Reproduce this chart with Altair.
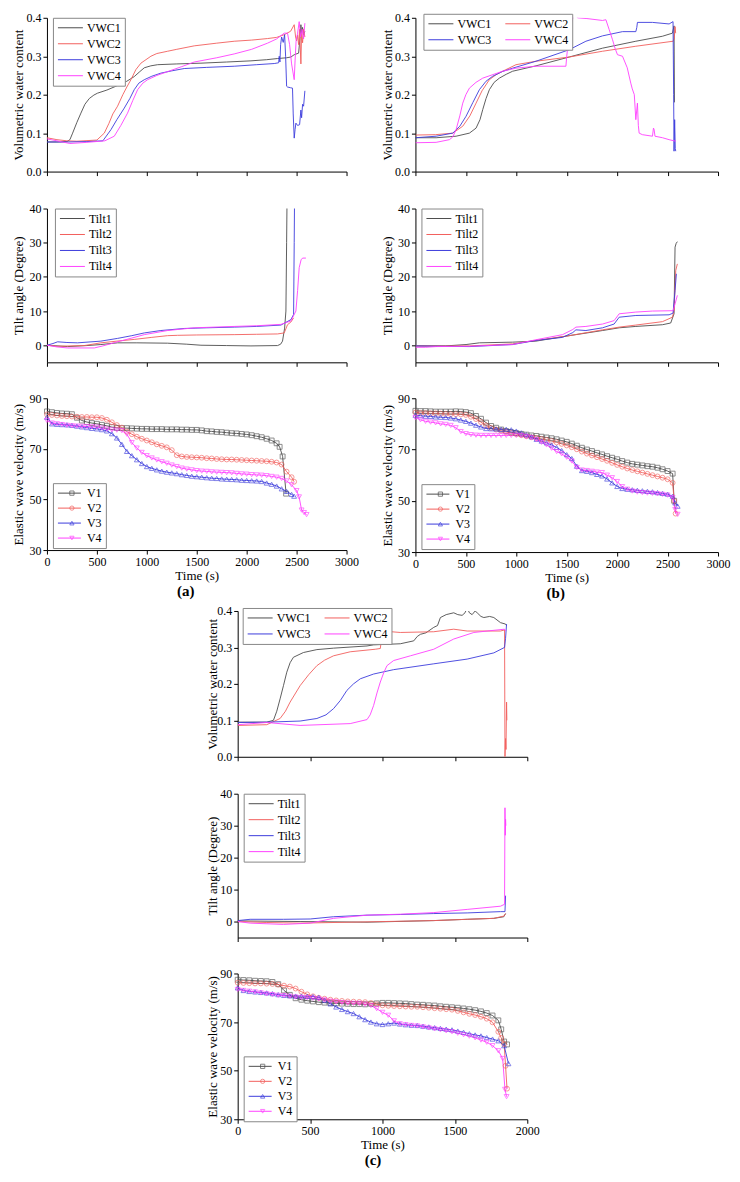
import altair as alt
import pandas as pd

FONT = "Liberation Serif"
COLORS = ["#4d4d4d", "#f25f5c", "#3c3cdc", "#ff40ff"]
SHAPES = ["square", "circle", "triangle-up", "triangle-down"]
VWC_NAMES = ["VWC1", "VWC2", "VWC3", "VWC4"]
TILT_NAMES = ["Tilt1", "Tilt2", "Tilt3", "Tilt4"]
V_NAMES = ["V1", "V2", "V3", "V4"]
X_TICKS_AB = [0, 500, 1000, 1500, 2000, 2500, 3000]
X_TICKS_C = [0, 500, 1000, 1500, 2000]
VWC_TICKS = [0.0, 0.1, 0.2, 0.3, 0.4]
TILT_TICKS = [0, 10, 20, 30, 40]
VEL_TICKS = [30, 50, 70, 90]

# ---------------- (a) volumetric water content ----------------
VWC1_A_T = [0, 100, 200, 230, 257, 300, 340, 380, 424, 470, 507, 600, 700, 800, 874, 930, 975, 1040, 1108, 1300, 1542, 1800, 2043, 2200, 2309, 2400, 2443, 2476, 2520, 2535, 2543, 2550, 2560, 2570, 2583]
VWC1_A_V = [0.077, 0.077, 0.078, 0.083, 0.10, 0.128, 0.152, 0.175, 0.19, 0.199, 0.204, 0.212, 0.223, 0.235, 0.247, 0.26, 0.27, 0.275, 0.278, 0.28, 0.282, 0.285, 0.288, 0.291, 0.294, 0.296, 0.298, 0.304, 0.308, 0.35, 0.382, 0.36, 0.375, 0.355, 0.365]
VWC2_A_T = [0, 100, 200, 300, 500, 574, 620, 660, 707, 760, 800, 841, 890, 941, 1041, 1100, 1208, 1300, 1475, 1700, 1875, 2050, 2209, 2300, 2376, 2440, 2476, 2490, 2500, 2510, 2520, 2530, 2543, 2550, 2560, 2570, 2583]
VWC2_A_V = [0.088, 0.083, 0.08, 0.079, 0.082, 0.10, 0.125, 0.15, 0.17, 0.20, 0.22, 0.239, 0.265, 0.282, 0.30, 0.307, 0.313, 0.318, 0.327, 0.334, 0.339, 0.342, 0.346, 0.349, 0.356, 0.365, 0.382, 0.35, 0.34, 0.355, 0.33, 0.37, 0.28, 0.36, 0.335, 0.37, 0.35]
VWC3_A_T = [0, 200, 400, 560, 641, 700, 774, 830, 874, 920, 975, 1050, 1141, 1250, 1375, 1600, 1875, 2100, 2276, 2320, 2326, 2333, 2340, 2350, 2366, 2380, 2390, 2400, 2409, 2440, 2459, 2466, 2476, 2485, 2493, 2510, 2530, 2543, 2550, 2560, 2570, 2583]
VWC3_A_V = [0.077, 0.077, 0.078, 0.08, 0.109, 0.135, 0.165, 0.19, 0.213, 0.23, 0.239, 0.248, 0.256, 0.262, 0.268, 0.271, 0.274, 0.278, 0.281, 0.283, 0.30, 0.285, 0.33, 0.35, 0.336, 0.356, 0.30, 0.222, 0.22, 0.218, 0.217, 0.15, 0.087, 0.11, 0.126, 0.12, 0.122, 0.16, 0.14, 0.175, 0.17, 0.21]
VWC4_A_T = [0, 100, 230, 400, 580, 674, 740, 807, 860, 908, 960, 1008, 1100, 1208, 1350, 1475, 1700, 1875, 2050, 2209, 2300, 2376, 2409, 2430, 2450, 2476, 2485, 2495, 2510, 2526, 2540, 2555, 2570, 2583]
VWC4_A_V = [0.085, 0.08, 0.073, 0.076, 0.08, 0.092, 0.12, 0.152, 0.185, 0.213, 0.23, 0.239, 0.25, 0.26, 0.273, 0.285, 0.296, 0.306, 0.318, 0.334, 0.345, 0.36, 0.36, 0.33, 0.28, 0.239, 0.29, 0.34, 0.36, 0.39, 0.35, 0.37, 0.345, 0.386]

# ---------------- (a) tilt ----------------
TILT1_A_T = [0, 207, 400, 540, 707, 900, 1208, 1400, 1542, 1800, 2043, 2309, 2340, 2359, 2380, 2393, 2400, 2405]
TILT1_A_V = [0, -0.4, -0.1, 0.2, 0.7, 0.7, 0.6, 0.3, 0.0, -0.1, -0.2, -0.1, 0.3, 1.2, 5, 10, 30, 45]
TILT2_A_T = [0, 100, 374, 540, 700, 874, 1050, 1208, 1308, 1500, 1875, 2100, 2309, 2376, 2409, 2443, 2470]
TILT2_A_V = [0, -0.3, -0.1, 0.7, 1.2, 1.7, 2.3, 2.8, 2.9, 3.0, 3.1, 3.2, 3.3, 3.6, 6.0, 6.8, 8.0]
TILT3_A_T = [0, 60, 107, 200, 307, 540, 707, 850, 975, 1141, 1375, 1600, 1875, 2100, 2343, 2443, 2470, 2476, 2480]
TILT3_A_V = [0, 0.5, 1.0, 0.8, 0.7, 1.2, 2.0, 2.8, 3.6, 4.3, 4.9, 5.1, 5.3, 5.5, 5.9, 7.5, 9.0, 30, 45]
TILT4_A_T = [0, 100, 207, 474, 560, 707, 850, 975, 1208, 1475, 1875, 2100, 2343, 2443, 2493, 2510, 2526, 2545, 2560, 2593]
TILT4_A_V = [0, -0.5, -0.8, -0.8, -0.2, 1.0, 2.1, 3.1, 4.3, 5.1, 5.5, 5.7, 6.1, 7.1, 10.0, 16, 22.7, 25.0, 25.5, 25.5]

# ---------------- (a) elastic wave velocity ----------------
GRID_AB = [0, 50, 100, 150, 200, 250, 300, 350, 400, 450, 500, 550, 600, 650, 700, 750, 800, 850, 900, 950,
           1000, 1050, 1100, 1150, 1200, 1250, 1300, 1350, 1400, 1450, 1500, 1550, 1600, 1650, 1700, 1750, 1800, 1850, 1900, 1950,
           2000, 2050, 2100, 2150, 2200, 2250, 2300, 2350, 2400, 2450, 2500, 2550, 2600]
V1_A = [84.8, 84.5, 84.2, 84.0, 83.9, 83.7, 82.3, 81.2, 80.6, 80.2,
        79.9, 79.5, 79.1, 78.6, 78.3, 78.2, 78.2, 78.1, 78.0, 77.9,
        77.9, 77.8, 77.8, 77.8, 77.7, 77.7, 77.7, 77.6, 77.6, 77.5,
        77.5, 77.3, 77.0, 76.9, 76.7, 76.6, 76.4, 76.2, 76.1, 75.9,
        75.7, 75.4, 75.0, 74.6, 74.0, 73.3, 72.2]
V1_A_TAIL_T = [2330, 2360, 2395]
V1_A_TAIL_V = [70.8, 67.0, 52.3]
V2_A = [83.6, 83.4, 83.2, 83.0, 82.9, 82.8, 82.7, 82.6, 82.6, 82.5,
        82.5, 82.2, 81.5, 80.5, 79.4, 78.4, 76.8, 75.8, 74.8, 74.0,
        73.3, 72.6, 71.8, 71.2, 70.6, 69.5, 67.5, 67.0, 66.8, 66.7,
        66.6, 66.5, 66.3, 66.2, 66.0, 65.9, 65.8, 65.8, 65.7, 65.6,
        65.5, 65.4, 65.3, 65.2, 65.1, 64.9, 64.6, 63.8, 61.0, 58.8]
V2_A_TAIL_T = [2475]
V2_A_TAIL_V = [57.0]
V3_A = [82.5, 79.9, 79.7, 79.6, 79.5, 79.3, 79.0, 78.7, 78.4, 78.1,
        77.9, 77.6, 77.1, 76.0, 74.3, 71.8, 69.0, 67.3, 65.7, 64.2,
        63.0, 62.3, 61.7, 61.2, 60.8, 60.5, 60.2, 59.8, 59.5, 59.2,
        59.0, 58.8, 58.6, 58.4, 58.3, 58.1, 58.0, 57.9, 57.8, 57.6,
        57.5, 57.4, 57.3, 57.1, 56.5, 56.0, 55.3, 54.2, 53.2, 52.0]
V3_A_TAIL_T = [2475]
V3_A_TAIL_V = [51.3]
V4_A = [81.2, 80.2, 79.9, 79.6, 79.3, 79.1, 79.0, 78.9, 78.8, 78.7,
        78.6, 78.2, 77.8, 77.5, 77.4, 77.2, 75.8, 72.5, 70.3, 68.6,
        67.3, 66.4, 65.6, 64.9, 64.3, 63.6, 63.0, 62.4, 62.0, 61.7,
        61.4, 61.2, 61.1, 60.9, 60.8, 60.7, 60.6, 60.5, 60.3, 60.1,
        60.0, 59.8, 59.7, 59.6, 59.4, 59.1, 58.8, 58.3, 57.3, 55.8, 53.5]
V4_A_TAIL_T = [2525, 2550, 2575, 2600]
V4_A_TAIL_V = [51.0, 45.8, 44.8, 44.0]

# ---------------- (b) volumetric water content ----------------
VWC1_B_T = [0, 205, 403, 535, 601, 640, 667, 700, 733, 780, 832, 900, 964, 1195, 1525, 1855, 2185, 2449, 2548, 2564, 2568]
VWC1_B_V = [0.088, 0.088, 0.092, 0.10, 0.113, 0.135, 0.161, 0.19, 0.213, 0.232, 0.243, 0.253, 0.261, 0.275, 0.298, 0.321, 0.339, 0.352, 0.36, 0.379, 0.18]
VWC2_B_T = [0, 200, 370, 469, 540, 601, 660, 733, 800, 865, 997, 1195, 1525, 1855, 2185, 2554, 2566, 2574, 2580]
VWC2_B_V = [0.095, 0.096, 0.10, 0.118, 0.145, 0.178, 0.21, 0.239, 0.252, 0.261, 0.278, 0.287, 0.298, 0.313, 0.326, 0.339, 0.345, 0.377, 0.36]
VWC3_B_T = [0, 205, 370, 440, 502, 570, 634, 700, 766, 860, 964, 1195, 1525, 1690, 1855, 2053, 2185, 2195, 2201, 2350, 2515, 2554, 2560, 2564, 2570, 2576, 2581]
VWC3_B_V = [0.088, 0.092, 0.10, 0.118, 0.144, 0.18, 0.213, 0.235, 0.248, 0.26, 0.269, 0.287, 0.317, 0.339, 0.353, 0.364, 0.364, 0.375, 0.388, 0.388, 0.384, 0.39, 0.2, 0.053, 0.135, 0.06, 0.053]
VWC4_B_T = [0, 205, 337, 370, 403, 440, 469, 500, 535, 600, 667, 865, 997, 1195, 1492, 1500, 1515, 1550, 1574, 1607, 1700, 1855, 1888, 1920, 1954, 1980, 2003, 2053, 2100, 2135, 2150, 2170, 2185, 2201, 2210, 2218, 2250, 2350, 2360, 2366, 2375, 2450, 2515, 2581]
VWC4_B_V = [0.075, 0.076, 0.083, 0.09, 0.109, 0.145, 0.178, 0.2, 0.217, 0.232, 0.243, 0.261, 0.269, 0.274, 0.274, 0.3, 0.334, 0.39, 0.412, 0.4, 0.398, 0.393, 0.395, 0.37, 0.343, 0.32, 0.304, 0.3, 0.27, 0.23, 0.215, 0.2, 0.135, 0.178, 0.12, 0.10, 0.096, 0.092, 0.113, 0.11, 0.092, 0.088, 0.083, 0.079]

# ---------------- (b) tilt ----------------
TILT1_B_T = [0, 300, 502, 634, 964, 1195, 1525, 1855, 2020, 2185, 2449, 2531, 2564, 2574, 2585, 2597]
TILT1_B_V = [-0.2, -0.2, 0.2, 0.7, 0.9, 1.2, 2.8, 4.3, 5.1, 5.5, 6.0, 6.5, 9.2, 28.7, 29.8, 30.3]
TILT2_B_T = [0, 535, 964, 1195, 1525, 1855, 2020, 2185, 2449, 2548, 2564, 2581, 2597]
TILT2_B_V = [-0.2, -0.2, 0.4, 1.4, 2.8, 4.5, 5.3, 5.9, 6.9, 8.2, 10.1, 21.9, 23.8]
TILT3_B_T = [0, 535, 964, 1195, 1459, 1560, 1591, 1690, 1855, 1970, 2020, 2185, 2515, 2554, 2574, 2587]
TILT3_B_V = [-0.2, -0.4, 0.2, 1.4, 2.3, 3.7, 4.5, 4.3, 5.1, 6.2, 8.2, 8.7, 8.9, 9.4, 16, 20.9]
TILT4_B_T = [0, 100, 205, 535, 964, 1195, 1459, 1560, 1591, 1690, 1855, 1970, 2020, 2185, 2350, 2554, 2574, 2597]
TILT4_B_V = [-0.6, -0.6, -0.4, -0.3, 0.2, 1.6, 3.1, 4.6, 5.3, 5.5, 6.2, 7.2, 9.2, 9.7, 10.0, 10.1, 12.1, 14.6]

# ---------------- (b) elastic wave velocity ----------------
V1_B = [85.1, 85.0, 85.0, 84.9, 84.8, 84.8, 84.8, 84.8, 84.9, 84.8,
        84.6, 84.2, 83.1, 82.0, 80.5, 79.2, 78.5, 77.8, 77.2, 76.7,
        76.4, 76.1, 75.8, 75.5, 75.3, 75.0, 74.7, 74.4, 74.0, 73.5,
        73.0, 72.3, 71.5, 70.7, 70.0, 69.4, 68.7, 68.1, 67.4, 66.8,
        66.2, 65.5, 64.9, 64.4, 64.1, 63.8, 63.5, 63.3, 62.9, 62.3, 61.6, 60.6]
V1_B_TAIL_T = [2565]
V1_B_TAIL_V = [50.0]
V2_B = [84.4, 84.3, 84.2, 84.1, 84.1, 84.0, 83.9, 83.8, 83.8, 83.7,
        83.5, 82.8, 81.9, 80.7, 79.4, 78.4, 77.8, 77.3, 76.8, 76.4,
        76.0, 75.6, 75.2, 74.8, 74.5, 74.1, 73.7, 73.3, 72.8, 72.2,
        71.6, 70.9, 70.1, 69.2, 68.4, 67.7, 67.0, 66.3, 65.6, 64.8,
        64.0, 63.3, 62.6, 62.0, 61.5, 61.0, 60.5, 60.0, 59.5, 59.0, 58.4, 57.0]
V2_B_TAIL_T = [2565, 2580]
V2_B_TAIL_V = [50.0, 45.0]
V3_B = [83.4, 83.2, 83.0, 82.9, 82.7, 82.6, 82.5, 82.3, 82.0, 81.5,
        81.0, 80.3, 79.5, 78.8, 78.2, 78.1, 78.0, 77.9, 77.9, 77.7,
        77.2, 76.5, 75.8, 75.0, 74.0, 73.3, 72.6, 71.8, 70.8, 69.6,
        68.0, 66.5, 63.5, 61.8, 61.5, 61.0, 60.3, 59.7, 58.5, 57.0,
        55.6, 54.8, 54.5, 54.3, 54.1, 53.9, 53.7, 53.5, 53.2, 52.9, 52.6, 51.8]
V3_B_TAIL_T = [2575, 2600]
V3_B_TAIL_V = [49.2, 47.9]
V4_B = [82.4, 81.6, 81.0, 80.7, 80.4, 80.0, 79.8, 79.4, 78.5, 77.0,
        76.2, 75.8, 75.6, 75.5, 75.5, 75.5, 75.5, 75.5, 75.5, 75.5,
        75.5, 75.4, 75.0, 74.6, 73.8, 72.8, 71.8, 70.5, 69.2, 68.3,
        67.0, 65.5, 63.0, 62.0, 61.8, 61.5, 61.2, 61.0, 60.0, 59.0,
        57.5, 55.5, 54.5, 53.8, 53.4, 53.2, 53.0, 52.9, 52.7, 52.5, 52.2, 51.2]
V4_B_TAIL_T = [2575, 2600]
V4_B_TAIL_V = [46.6, 44.7]

# ---------------- (c) volumetric water content ----------------
VWC1_C_T = [0, 201, 247, 270, 293, 316, 339, 362, 385, 454, 547, 662, 893, 939, 1123, 1216, 1240, 1262, 1300, 1354, 1380, 1400, 1440, 1492, 1520, 1550, 1570, 1585, 1600, 1619, 1640, 1654, 1680, 1700, 1740, 1769, 1815, 1850, 1856]
VWC1_C_V = [0.095, 0.095, 0.10, 0.125, 0.159, 0.195, 0.232, 0.258, 0.273, 0.286, 0.294, 0.298, 0.304, 0.307, 0.31, 0.318, 0.33, 0.336, 0.34, 0.355, 0.36, 0.382, 0.39, 0.395, 0.39, 0.388, 0.395, 0.409, 0.395, 0.39, 0.40, 0.395, 0.385, 0.382, 0.385, 0.382, 0.368, 0.364, 0.36]
VWC2_C_T = [0, 201, 293, 330, 362, 431, 490, 547, 600, 662, 777, 950, 985, 1003, 1031, 1123, 1354, 1492, 1585, 1815, 1843, 1846, 1850, 1853, 1857, 1859]
VWC2_C_V = [0.086, 0.088, 0.105, 0.125, 0.15, 0.195, 0.225, 0.25, 0.265, 0.277, 0.288, 0.295, 0.297, 0.355, 0.344, 0.341, 0.343, 0.35, 0.345, 0.345, 0.348, 0.0, 0.05, 0.02, 0.15, 0.10]
VWC3_C_T = [0, 201, 431, 547, 610, 662, 710, 754, 800, 847, 939, 1077, 1354, 1585, 1769, 1843, 1850, 1857]
VWC3_C_V = [0.094, 0.095, 0.098, 0.105, 0.115, 0.132, 0.155, 0.182, 0.20, 0.214, 0.227, 0.239, 0.255, 0.268, 0.285, 0.30, 0.325, 0.364]
VWC4_C_T = [0, 201, 431, 777, 893, 915, 939, 962, 985, 1008, 1031, 1077, 1193, 1354, 1492, 1631, 1723, 1843, 1850]
VWC4_C_V = [0.088, 0.094, 0.086, 0.091, 0.102, 0.115, 0.141, 0.175, 0.205, 0.23, 0.25, 0.264, 0.277, 0.295, 0.323, 0.341, 0.345, 0.35, 0.345]

# ---------------- (c) tilt ----------------
TILT1_C_T = [0, 431, 893, 1354, 1585, 1769, 1838, 1850]
TILT1_C_V = [0.2, 0.0, -0.2, 0.3, 0.7, 1.0, 1.5, 2.5]
TILT2_C_T = [0, 201, 431, 893, 1354, 1585, 1769, 1838, 1850]
TILT2_C_V = [0, -0.3, -0.5, -0.1, 0.3, 0.7, 1.0, 1.7, 2.5]
TILT3_C_T = [0, 86, 316, 501, 662, 893, 1123, 1354, 1585, 1815, 1846, 1850]
TILT3_C_V = [0.3, 0.7, 0.7, 0.8, 1.5, 2.0, 2.2, 2.5, 2.7, 3.1, 3.1, 8.1]
TILT4_C_T = [0, 86, 316, 501, 662, 893, 1123, 1354, 1585, 1815, 1843, 1846, 1848, 1850, 1852]
TILT4_C_V = [0, -0.5, -0.9, -0.5, 1.0, 2.0, 2.3, 2.8, 3.8, 4.8, 5.4, 35.6, 27, 32, 30]

# ---------------- (c) elastic wave velocity ----------------
GRID_C = [0, 40, 80, 120, 160, 200, 240, 280, 320, 360, 400, 440, 480, 520, 560, 600, 640, 680, 720, 760,
          800, 840, 880, 920, 960, 1000, 1040, 1080, 1120, 1160, 1200, 1240, 1280, 1320, 1360, 1400, 1440, 1480, 1520, 1560,
          1600, 1640, 1680, 1720, 1760, 1800, 1840]
V1_C = [87.4, 87.3, 87.2, 87.0, 86.9, 86.8, 86.5, 85.6, 83.0, 81.2,
        79.8, 79.2, 78.8, 78.5, 78.2, 78.0, 77.8, 77.7, 77.6, 77.5,
        77.4, 77.4, 77.3, 77.5, 77.7, 77.9, 77.9, 77.8, 77.7, 77.6,
        77.4, 77.2, 77.1, 76.9, 76.8, 76.5, 76.3, 76.1, 75.9, 75.6,
        75.3, 74.9, 74.4, 73.7, 72.7, 70.7]
V1_C_TAIL_T = [1820, 1840, 1860]
V1_C_TAIL_V = [67.0, 62.0, 60.8]
V2_C = [86.2, 86.1, 86.0, 85.9, 85.9, 85.8, 85.7, 85.4, 85.0, 84.6,
        83.8, 82.5, 81.4, 80.6, 80.0, 79.6, 79.2, 78.9, 78.7, 78.5,
        78.4, 78.3, 78.2, 77.8, 77.3, 76.9, 76.7, 76.6, 76.5, 76.4,
        76.3, 76.3, 76.1, 75.9, 75.7, 75.5, 75.3, 75.1, 74.6, 74.0,
        73.4, 72.9, 72.2, 71.4, 69.9, 66.0]
V2_C_TAIL_T = [1820, 1840, 1850, 1860]
V2_C_TAIL_V = [63.5, 61.0, 52.0, 42.6]
V3_C = [84.1, 83.0, 82.6, 82.4, 82.2, 82.0, 81.7, 81.3, 81.0, 80.8,
        80.7, 80.7, 80.6, 80.5, 80.2, 79.0, 77.5, 76.2, 75.2, 74.3,
        73.5, 72.2, 71.0, 70.0, 69.3, 69.0, 69.3, 69.6, 69.2, 68.9,
        68.7, 68.6, 68.3, 68.0, 67.7, 67.4, 67.1, 66.8, 66.3, 65.8,
        65.2, 64.7, 64.3, 63.6, 63.0, 62.3, 60.3]
V3_C_TAIL_T = [1870]
V3_C_TAIL_V = [52.9]
V4_C = [83.4, 83.0, 82.7, 82.4, 82.0, 81.6, 81.3, 81.0, 80.9, 80.6,
        80.3, 80.1, 80.0, 79.8, 79.5, 79.1, 78.6, 78.3, 78.0, 77.8,
        77.7, 77.7, 77.3, 76.8, 75.5, 74.0, 72.8, 70.5, 69.3, 68.9,
        68.6, 68.4, 68.0, 67.6, 67.2, 66.8, 66.4, 66.0, 65.4, 64.8,
        64.2, 63.5, 62.6, 61.7, 60.3, 58.2]
V4_C_TAIL_T = [1830, 1846, 1857]
V4_C_TAIL_V = [55.0, 42.3, 39.3]


def frame(names, ts, vs):
    rows = []
    for n, t, v in zip(names, ts, vs):
        for i, (a, b) in enumerate(zip(t, v)):
            rows.append({"s": n, "t": a, "v": b, "i": i})
    return pd.DataFrame(rows)


def vel_series(grid, vals, tail_t, tail_v):
    return grid[:len(vals)] + tail_t, vals + tail_v


def line_legend(lx, ly, cols, box=True, path="M-1,0H4", row_pad=4):
    opts = dict(title=None, orient="none", legendX=lx, legendY=ly, columns=cols,
                direction="horizontal" if cols > 1 else "vertical",
                symbolType=path, symbolSize=100, symbolStrokeWidth=1,
                labelOffset=18, labelFont=FONT, labelFontSize=12, labelColor="black",
                padding=4, rowPadding=row_pad, columnPadding=12)
    if box:
        opts.update(strokeColor="#888888", fillColor="white")
    return alt.Legend(**opts)


def y_axis(title, ticks, fmt, tx):
    return alt.Axis(values=ticks, format=fmt, title=title, titleX=tx, labelFlush=False,
                    labelOverlap=False, labelFont=FONT, titleFont=FONT)


def x_axis(ticks, labels):
    if labels:
        return alt.Axis(values=ticks, title="Time (s)", labelFlush=False, labelOverlap=False,
                        titlePadding=2, format="d", labelFont=FONT, titleFont=FONT)
    return alt.Axis(values=ticks, labels=False, title=None)


def line_panel(df, names, ytitle, ydom, yticks, yfmt, w, h, xdom, xticks, leg, tx):
    return alt.Chart(df).mark_line(strokeWidth=0.9, clip=True).encode(
        x=alt.X("t:Q", scale=alt.Scale(domain=xdom, nice=False), axis=x_axis(xticks, False)),
        y=alt.Y("v:Q", scale=alt.Scale(domain=ydom, nice=False, zero=False), axis=y_axis(ytitle, yticks, yfmt, tx)),
        color=alt.Color("s:N", scale=alt.Scale(domain=names, range=COLORS), legend=leg),
        order="i:Q",
    ).properties(width=w, height=h)


def vel_panel(df, w, h, xdom, xticks, lx, ly, tx):
    # line legend (with box) and a marker-only legend drawn on top of it at the same place
    line_leg = line_legend(lx, ly, 1, box=True, path="M-1,0H3.6", row_pad=3)
    mark_leg = alt.Legend(title=None, orient="none", legendX=lx, legendY=ly, columns=1,
                          symbolSize=18, symbolStrokeWidth=1, labelFont=FONT, labelFontSize=12,
                          labelExpr="''", padding=4, rowPadding=3, symbolOffset=9, labelOffset=14)
    x = alt.X("t:Q", scale=alt.Scale(domain=xdom, nice=False), axis=x_axis(xticks, True))
    y = alt.Y("v:Q", scale=alt.Scale(domain=[30, 90], nice=False, zero=False),
              axis=y_axis("Elastic wave velocity (m/s)", VEL_TICKS, "d", tx))
    cscale = alt.Scale(domain=V_NAMES, range=COLORS)
    base = alt.Chart(df)
    line = base.mark_line(strokeWidth=0.9).encode(
        x=x, y=y, color=alt.Color("s:N", scale=cscale, legend=line_leg), order="i:Q")
    pts = base.mark_point(filled=False, size=24, strokeWidth=0.9).encode(
        x=x, y=y, color=alt.Color("s:N", scale=cscale, legend=mark_leg),
        shape=alt.Shape("s:N", scale=alt.Scale(domain=V_NAMES, range=SHAPES), legend=mark_leg))
    return alt.layer(line, pts).resolve_legend(color="independent", shape="independent").properties(width=w, height=h)


def column(vwc_df, tilt_df, vel_df, w, hs, xdom, xticks, label, legs, tx, spacing):
    vwc = line_panel(vwc_df, VWC_NAMES, "Volumetric water content", [0, 0.4], VWC_TICKS, ".1f",
                     w, hs[0], xdom, xticks, line_legend(*legs[0]), tx)
    tilt = line_panel(tilt_df, TILT_NAMES, "Tilt angle (Degree)", [-5, 40], TILT_TICKS, "d",
                      w, hs[1], xdom, xticks, line_legend(*legs[1]), tx)
    vel = vel_panel(vel_df, w, hs[2], xdom, xticks, legs[2][0], legs[2][1], tx)
    return alt.vconcat(vwc, tilt, vel, spacing=spacing,
                       title=alt.TitleParams(text=label, orient="bottom", anchor="middle",
                                             font=FONT, fontSize=15, fontWeight="bold",
                                             offset=2)).resolve_scale(color="independent", shape="independent")


vwc_a = frame(VWC_NAMES, [VWC1_A_T, VWC2_A_T, VWC3_A_T, VWC4_A_T], [VWC1_A_V, VWC2_A_V, VWC3_A_V, VWC4_A_V])
tilt_a = frame(TILT_NAMES, [TILT1_A_T, TILT2_A_T, TILT3_A_T, TILT4_A_T], [TILT1_A_V, TILT2_A_V, TILT3_A_V, TILT4_A_V])
va = [vel_series(GRID_AB, V1_A, V1_A_TAIL_T, V1_A_TAIL_V), vel_series(GRID_AB, V2_A, V2_A_TAIL_T, V2_A_TAIL_V),
      vel_series(GRID_AB, V3_A, V3_A_TAIL_T, V3_A_TAIL_V), vel_series(GRID_AB, V4_A, V4_A_TAIL_T, V4_A_TAIL_V)]
vel_a = frame(V_NAMES, [s[0] for s in va], [s[1] for s in va])

vwc_b = frame(VWC_NAMES, [VWC1_B_T, VWC2_B_T, VWC3_B_T, VWC4_B_T], [VWC1_B_V, VWC2_B_V, VWC3_B_V, VWC4_B_V])
tilt_b = frame(TILT_NAMES, [TILT1_B_T, TILT2_B_T, TILT3_B_T, TILT4_B_T], [TILT1_B_V, TILT2_B_V, TILT3_B_V, TILT4_B_V])
vb = [vel_series(GRID_AB, V1_B, V1_B_TAIL_T, V1_B_TAIL_V), vel_series(GRID_AB, V2_B, V2_B_TAIL_T, V2_B_TAIL_V),
      vel_series(GRID_AB, V3_B, V3_B_TAIL_T, V3_B_TAIL_V), vel_series(GRID_AB, V4_B, V4_B_TAIL_T, V4_B_TAIL_V)]
vel_b = frame(V_NAMES, [s[0] for s in vb], [s[1] for s in vb])

vwc_c = frame(VWC_NAMES, [VWC1_C_T, VWC2_C_T, VWC3_C_T, VWC4_C_T], [VWC1_C_V, VWC2_C_V, VWC3_C_V, VWC4_C_V])
tilt_c = frame(TILT_NAMES, [TILT1_C_T, TILT2_C_T, TILT3_C_T, TILT4_C_T], [TILT1_C_V, TILT2_C_V, TILT3_C_V, TILT4_C_V])
vc = [vel_series(GRID_C, V1_C, V1_C_TAIL_T, V1_C_TAIL_V), vel_series(GRID_C, V2_C, V2_C_TAIL_T, V2_C_TAIL_V),
      vel_series(GRID_C, V3_C, V3_C_TAIL_T, V3_C_TAIL_V), vel_series(GRID_C, V4_C, V4_C_TAIL_T, V4_C_TAIL_V)]
vel_c = frame(V_NAMES, [s[0] for s in vc], [s[1] for s in vc])

col_a = column(vwc_a, tilt_a, vel_a, 300, [154, 154, 152], [0, 3000], X_TICKS_AB, "(a)",
               [(6, 0, 1), (8, 0, 1), (6, 85)], -21, 25)
col_b = column(vwc_b, tilt_b, vel_b, 303, [154, 154, 154], [0, 3000], X_TICKS_AB, "(b)",
               [(8, -4, 2), (6, 0, 1), (6, 86)], -21, 25)
col_c = column(vwc_c, tilt_c, vel_c, 290, [146, 144, 146], [0, 2000], X_TICKS_C, "(c)",
               [(5, -3, 2), (6, 0, 1), (6, 83)], -18, 25)

spacer = alt.Chart(pd.DataFrame({"z": [0]})).mark_point(opacity=0).encode(
    x=alt.value(0), y=alt.value(0)).properties(width=159, height=10)

top = alt.hconcat(col_a, col_b, spacing=22).resolve_scale(color="independent", shape="independent")
bottom = alt.hconcat(spacer, col_c, spacing=0).resolve_scale(color="independent", shape="independent")

chart = alt.vconcat(top, bottom, spacing=4).resolve_scale(
    color="independent", shape="independent"
).properties(
    padding={"left": 4, "top": 3, "right": 2, "bottom": 2}
).configure(font=FONT).configure_view(stroke=None).configure_axis(
    grid=False, domainColor="black", tickColor="black", labelColor="black", titleColor="black",
    labelFont=FONT, titleFont=FONT, labelFontSize=12, titleFontSize=13, titleFontWeight="normal",
    tickSize=4, labelPadding=2, domainWidth=1, tickWidth=1
).configure_legend(labelFont=FONT).configure_title(font=FONT)

chart.save("out.html", embed_options={"renderer": "svg", "actions": False})
